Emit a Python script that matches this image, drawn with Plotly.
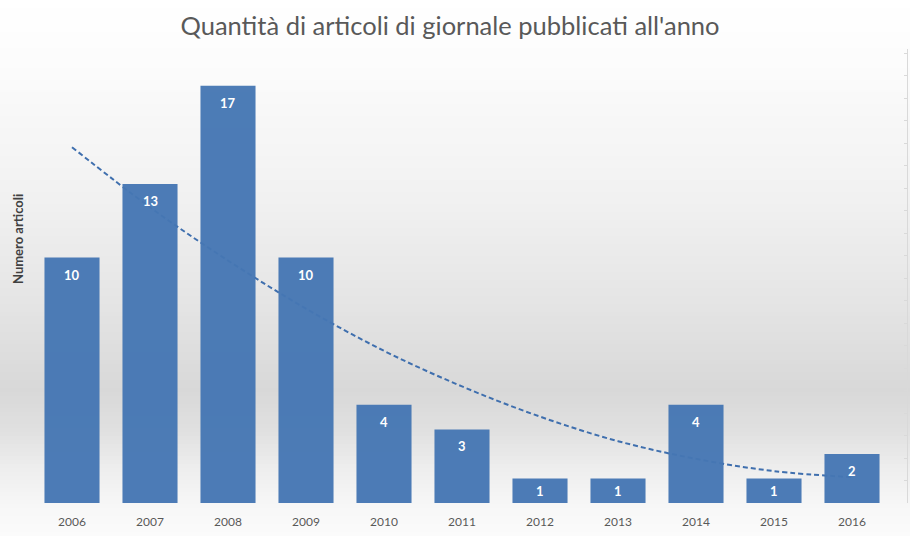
import plotly.graph_objects as go

# ---- data ----
years = ['2006', '2007', '2008', '2009', '2010', '2011', '2012', '2013', '2014', '2015', '2016']
articles = [10, 13, 17, 10, 4, 3, 1, 1, 4, 1, 2]
trend = [14.5, 12.05, 9.88, 7.92, 6.2, 4.75, 3.52, 2.52, 1.8, 1.3, 1.05]

title_text = "Quantità di articoli di giornale pubblicati all'anno"
ytitle_text = "Numero articoli"

W, H = 910, 536
ML, MR, MT, MB = 33, 2, 49, 33
PW = W - ML - MR
PH = H - MT - MB
YMAX = 18.5
FONT = "Lato"

fig = go.Figure()

# trend line (drawn beneath the bars)
fig.add_trace(go.Scatter(
    x=years, y=trend, mode='lines', line=dict(color='#3f6fae', width=2, dash='5px,3px', shape='spline'),
    xaxis='x', yaxis='y', showlegend=False, hoverinfo='skip'))

# bars on overlaying axes so they sit above the trend line
fig.add_trace(go.Bar(
    x=years, y=articles, marker=dict(color='#4677b4', line=dict(width=0)), opacity=0.96,
    xaxis='x2', yaxis='y2', showlegend=False, hoverinfo='x+y'))

# dummy trace for decorative right-edge axis
fig.add_trace(go.Scatter(x=[years[0]], y=[None], xaxis='x', yaxis='y3', showlegend=False, hoverinfo='skip'))

# background vertical gradient via bands
stops = [(0, 255), (60, 252), (200, 241), (300, 229), (390, 216), (430, 224), (470, 238), (505, 247), (536, 251)]
def gray_at(py):
    for (a, ca), (b, cb) in zip(stops[:-1], stops[1:]):
        if a <= py <= b:
            t = (py - a) / (b - a)
            return int(round(ca + (cb - ca) * t))
    return 255

shapes = []
step = 4
for py in range(0, H, step):
    g = gray_at(py + step / 2)
    y0 = (H - MB - py) / PH
    y1 = (H - MB - (py + step)) / PH
    shapes.append(dict(type='rect', xref='paper', yref='paper', x0=-0.1, x1=1.1, y0=y1, y1=y0,
                       fillcolor=f'rgb({g},{g},{g})', line=dict(width=0), layer='below'))

# value labels
annotations = []
px_per_unit = PH / YMAX
for i, v in enumerate(articles):
    shift = -min(17, px_per_unit * v / 2)
    annotations.append(dict(x=i, y=v, xref='x', yref='y', text=f'<b>{v}</b>', showarrow=False,
                            yanchor='middle', yshift=shift, font=dict(family=FONT, size=13, color='white')))

annotations.append(dict(text=f'<b>{ytitle_text}</b>', xref='paper', yref='paper',
                        x=(18 - ML) / PW, y=(H - MB - 239) / PH, textangle=-90, showarrow=False,
                        xanchor='center', yanchor='middle', font=dict(family=FONT, size=13, color='#404040')))

xdom_end = (891 - ML) / PW
fig.update_layout(
    width=W, height=H,
    margin=dict(l=ML, r=MR, t=MT, b=MB),
    paper_bgcolor='white', plot_bgcolor='rgba(0,0,0,0)',
    title=dict(text=title_text, x=450 / W, xanchor='center', y=1 - 26 / H, yanchor='middle',
               font=dict(family=FONT, size=25.5, color='#595959')),
    bargap=0.294,
    xaxis=dict(type='category', range=[-0.5, 10.5], domain=[0, xdom_end], showgrid=False, zeroline=False,
               showline=False, ticks='', tickfont=dict(family=FONT, size=12, color='#595959'),
               ticklabelstandoff=10),
    yaxis=dict(range=[0, YMAX], showgrid=False, zeroline=False, showticklabels=False, showline=False, ticks=''),
    xaxis2=dict(type='category', range=[-0.5, 10.5], domain=[0, xdom_end], overlaying='x', showgrid=False,
                zeroline=False, showticklabels=False, ticks='', anchor='y2'),
    yaxis2=dict(range=[0, YMAX], overlaying='y', showgrid=False, zeroline=False, showticklabels=False,
                ticks='', anchor='x2'),
    yaxis3=dict(range=[0, PH / 22.5], overlaying='y', side='right', anchor='free',
                position=(907 - ML) / PW, showline=True, linecolor='#d9d9d9', linewidth=1,
                ticks='inside', ticklen=3, tickcolor='#d9d9d9', dtick=1, showgrid=False,
                showticklabels=False, zeroline=False),
    shapes=shapes,
    annotations=annotations,
)

fig.write_html("out.html", config={'displayModeBar': False},
               post_script="document.body.style.margin='0';")
